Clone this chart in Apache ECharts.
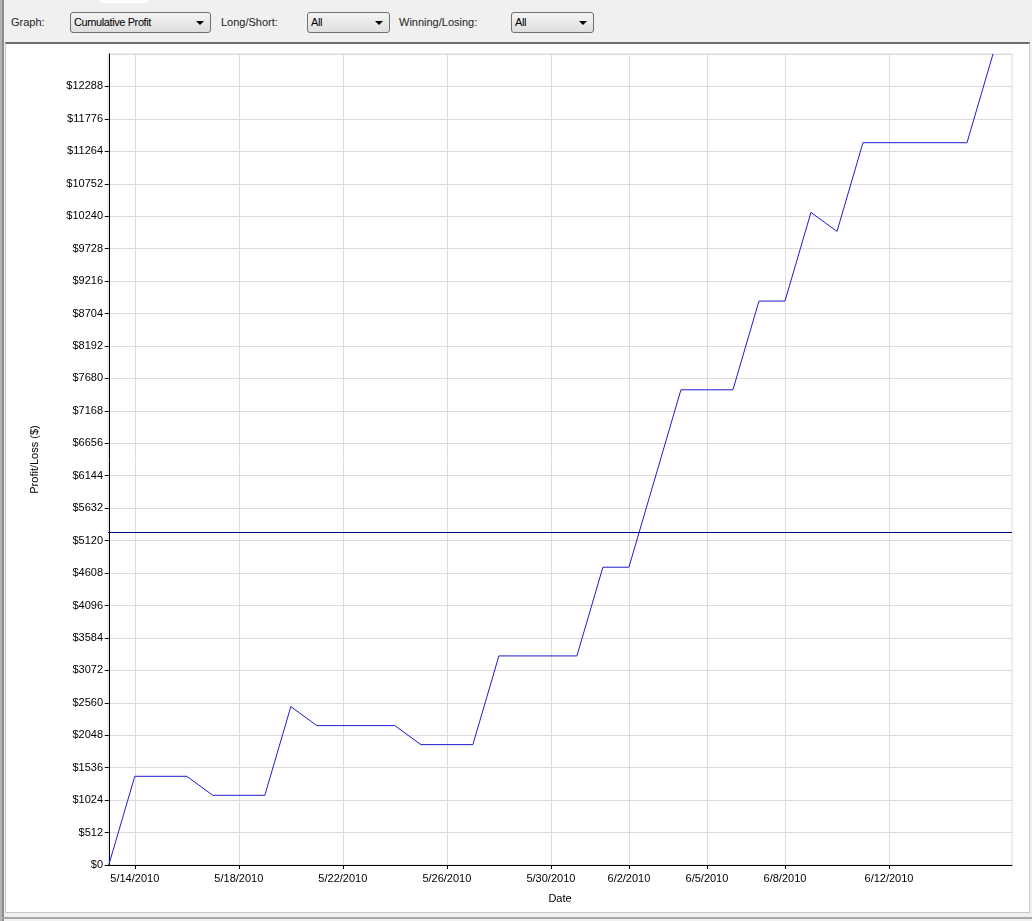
<!DOCTYPE html>
<html>
<head>
<meta charset="utf-8">
<script src="https://cdn.jsdelivr.net/npm/echarts@6/dist/echarts.min.js"></script>
<style>
  html, body { margin: 0; padding: 0; width: 1032px; height: 921px; overflow: hidden; background: #f0f0f0; font-family: "Liberation Sans", Arial, sans-serif; }
  .frame { position: absolute; left: 0; top: 0; width: 1032px; height: 921px; box-sizing: border-box; border-left: 2px solid #b4b4b4; }
  .frame:before { content: ''; position: absolute; left: 0; top: 0; bottom: 0; width: 2px; background: #8c8c8c; }
  .tab { position: absolute; left: 100px; top: 0; width: 48px; height: 3px; background: #fff; }
  .toolbar { position: absolute; left: 0; top: 0; width: 1032px; height: 42px; font-size: 11px; color: #222; }
  .lbl { position: absolute; top: 16px; }
  .dd { position: absolute; top: 12px; box-sizing: border-box; height: 21px; border: 1px solid #707070; border-radius: 3px;
        background: linear-gradient(#f4f4f4, #dedede); font-size: 11px; letter-spacing: -0.4px; line-height: 19px; padding-left: 3px; color: #000; }
  .dd:after { content: ''; position: absolute; right: 6px; top: 8px; border-left: 4px solid transparent; border-right: 4px solid transparent; border-top: 4px solid #000; }
  .panel { position: absolute; left: 5px; top: 42px; width: 1025px; height: 871px; box-sizing: border-box; border-top: 2px solid #6e6e6e; border-left: 1px solid #c8c8c8; border-right: 1px solid #c8c8c8; border-bottom: 1px solid #c8c8c8; background: #fff; }
  .bottom { position: absolute; left: 2px; top: 917px; width: 1030px; height: 2px; background: #a8a8a8; }
  #chart { position: absolute; left: 7px; top: 44px; width: 1021px; height: 867px; }
</style>
</head>
<body>
<div class="frame"></div>
<div class="tab"></div>
<div class="toolbar">
  <span class="lbl" style="left:11px">Graph:</span>
  <div class="dd" style="left:70px;width:141px">Cumulative Profit</div>
  <span class="lbl" style="left:221px">Long/Short:</span>
  <div class="dd" style="left:307px;width:83px">All</div>
  <span class="lbl" style="left:399px">Winning/Losing:</span>
  <div class="dd" style="left:511px;width:83px">All</div>
</div>
<div class="panel"></div>
<div class="bottom"></div>
<div id="chart"></div>
<script>
// trade dates and cumulative profit at each one
const tradeDates = ['2010-05-13', '2010-05-14', '2010-05-16', '2010-05-17', '2010-05-19', '2010-05-20', '2010-05-21',
  '2010-05-24', '2010-05-25', '2010-05-27', '2010-05-28', '2010-05-31', '2010-06-01', '2010-06-02', '2010-06-04',
  '2010-06-06', '2010-06-07', '2010-06-08', '2010-06-09', '2010-06-10', '2010-06-11', '2010-06-15', '2010-06-16'];
const cumulativeProfit = [0, 1400, 1400, 1100, 1100, 2500, 2200,
  2200, 1900, 1900, 3300, 3300, 4700, 4700, 7500,
  7500, 8900, 8900, 10300, 10000, 11400, 11400, 12800];
// horizontal reference level
const referenceLevel = 5250;
// date tick labels on the x axis
const dateTicks = ['2010-05-14', '2010-05-18', '2010-05-22', '2010-05-26', '2010-05-30',
  '2010-06-02', '2010-06-05', '2010-06-08', '2010-06-12'];
const axisStart = '2010-05-13';
const axisMinDays = -0.03;
const axisMaxDays = 34.73;   // x axis runs to about 6/16 evening
const yMax = 12800;
const yStep = 512;

const DAY = 24 * 3600 * 1000;
function toTime(s) {
  let d = s.split('-');
  return Date.UTC(+d[0], +d[1] - 1, +d[2]);
}
// x position = days since 5/13
function toDays(s) {
  return (toTime(s) - toTime(axisStart)) / DAY;
}

let seriesData = [];
tradeDates.forEach(function (item, index) {
  seriesData.push([toDays(item), cumulativeProfit[index]]);
});

let myChart = echarts.init(document.getElementById('chart'));
let option = {
  animation: false,
  backgroundColor: '#fff',
  textStyle: { fontFamily: '"Liberation Sans", Arial, sans-serif' },
  grid: {
    left: 101,
    top: 10,
    right: 16,
    bottom: 46,
    show: true,
    borderColor: '#dcdcdc',
    borderWidth: 1
  },
  xAxis: {
    type: 'value',
    min: axisMinDays,
    max: axisMaxDays,
    name: 'Date',
    nameLocation: 'middle',
    nameGap: 28,
    nameTextStyle: { fontSize: 11, color: '#000' },
    axisLine: { lineStyle: { color: '#000', width: 1 } },
    axisTick: {
      show: true,
      length: 4,
      lineStyle: { color: '#000' },
      customValues: dateTicks.map(toDays)
    },
    axisLabel: {
      fontSize: 11,
      color: '#000',
      margin: 8,
      customValues: dateTicks.map(toDays),
      formatter: function (value) {
        let d = new Date(toTime(axisStart) + Math.round(value) * DAY);
        return (d.getUTCMonth() + 1) + '/' + d.getUTCDate() + '/' + d.getUTCFullYear();
      }
    },
    splitLine: { show: true, lineStyle: { color: '#dcdcdc', width: 1 } }
  },
  yAxis: {
    type: 'value',
    min: 0,
    max: yMax,
    interval: yStep,
    name: 'Profit/Loss ($)',
    nameLocation: 'middle',
    nameGap: 68,
    nameTextStyle: { fontSize: 11, color: '#000' },
    axisLine: { show: true, lineStyle: { color: '#000', width: 1 } },
    axisTick: { show: true, length: 4, lineStyle: { color: '#000' } },
    axisLabel: {
      fontSize: 11,
      color: '#000',
      margin: 5,
      showMaxLabel: false,
      formatter: function (value) {
        return '$' + value;
      }
    },
    splitLine: { show: true, lineStyle: { color: '#dcdcdc', width: 1 } }
  },
  series: [{
    name: 'Cumulative Profit',
    type: 'line',
    data: seriesData,
    symbol: 'none',
    lineStyle: { color: '#1c1cd0', width: 1 },
    itemStyle: { color: '#1c1cd0' },
    markLine: {
      silent: true,
      symbol: 'none',
      label: { show: false },
      lineStyle: { type: 'solid', color: '#000080', width: 1 },
      data: [{ yAxis: referenceLevel }]
    }
  }]
};
myChart.setOption(option);
</script>
</body>
</html>
